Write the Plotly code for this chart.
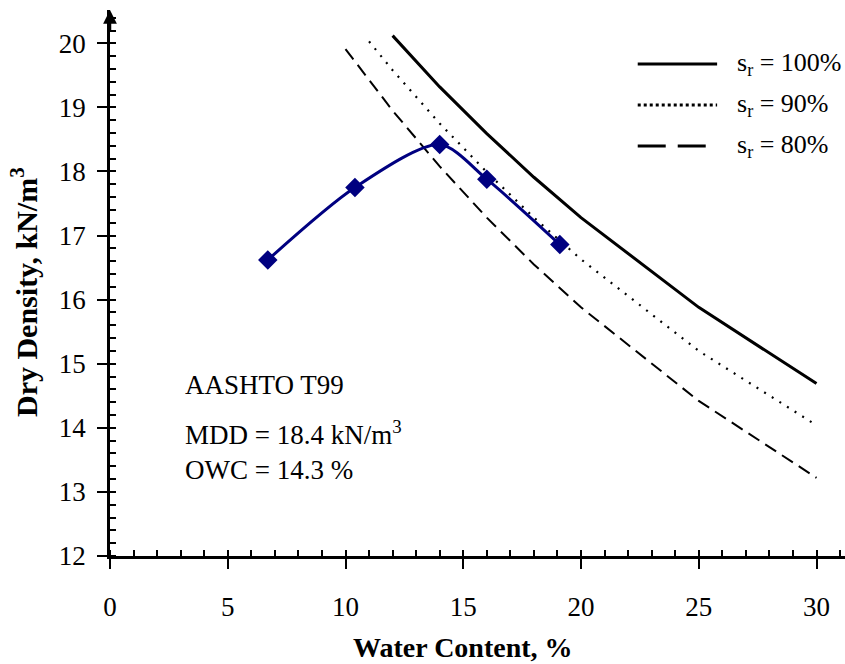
import plotly.graph_objects as go

# Compaction test results (AASHTO T99)
water_content = [6.7, 10.4, 14.0, 16.0, 19.1]
dry_density = [16.62, 17.75, 18.42, 17.88, 16.86]

# Saturation lines (degree of saturation s_r)
w_sr100 = [12, 14, 16, 18, 20, 25, 30]
dd_sr100 = [20.12, 19.32, 18.59, 17.91, 17.28, 15.88, 14.69]

w_sr90 = [11, 12, 14, 16, 18, 20, 25, 30]
dd_sr90 = [20.03, 19.58, 18.75, 17.99, 17.28, 16.63, 15.20, 14.04]

w_sr80 = [10, 12, 14, 16, 18, 20, 25, 30]
dd_sr80 = [19.91, 18.95, 18.08, 17.28, 16.55, 15.88, 14.42, 13.22]

legend_labels = ["s<sub>r</sub> = 100%", "s<sub>r</sub> = 90%", "s<sub>r</sub> = 80%"]
legend_dash = ["solid", "3px,3px", "28px,12px"]
legend_width = [3, 3, 3]

x_ticks = [0, 5, 10, 15, 20, 25, 30]
y_ticks = [12, 13, 14, 15, 16, 17, 18, 19, 20]

FONT = "Liberation Serif"
NAVY = "#000080"

fig = go.Figure()

fig.add_trace(go.Scatter(x=w_sr100, y=dd_sr100, mode="lines",
                         line=dict(color="black", width=3), showlegend=False))
fig.add_trace(go.Scatter(x=w_sr90, y=dd_sr90, mode="lines",
                         line=dict(color="black", width=2.2, dash="2px,7px"), showlegend=False))
fig.add_trace(go.Scatter(x=w_sr80, y=dd_sr80, mode="lines",
                         line=dict(color="black", width=2, dash="13px,7px"), showlegend=False))
fig.add_trace(go.Scatter(x=water_content, y=dry_density, mode="lines+markers",
                         line=dict(color=NAVY, width=3, shape="spline", smoothing=0.8),
                         marker=dict(symbol="diamond", size=15, color=NAVY),
                         showlegend=False))

# Hand-built legend in the upper right
legend_y = [0.901, 0.826, 0.751]
for label, dash, lw, ly in zip(legend_labels, legend_dash, legend_width, legend_y):
    fig.add_shape(type="line", xref="paper", yref="paper",
                  x0=0.718, x1=0.826, y0=ly, y1=ly,
                  line=dict(color="black", width=lw, dash=dash))
    fig.add_annotation(xref="paper", yref="paper", x=0.851, y=ly, text=label,
                       showarrow=False, xanchor="left", yanchor="middle",
                       font=dict(family=FONT, size=26, color="black"))

# Test summary text
notes = ["AASHTO T99", "MDD = 18.4 kN/m<sup>3</sup>", "OWC = 14.3 %"]
notes_y = [14.67, 13.92, 13.34]
for txt, ny in zip(notes, notes_y):
    fig.add_annotation(x=3.1, y=ny, text=txt, showarrow=False,
                       xanchor="left", yanchor="middle",
                       font=dict(family=FONT, size=27, color="black"))

# Axis titles
fig.add_annotation(x=15, y=-0.168, xref="x", yref="paper",
                   text="<b>Water Content, %</b>", showarrow=False,
                   xanchor="center", yanchor="middle",
                   font=dict(family=FONT, size=28, color="black"))
fig.add_annotation(x=-0.116, y=0.483, xref="paper", yref="paper",
                   text="<b>Dry Density, kN/m<sup>3</sup></b>", showarrow=False,
                   textangle=-90, xanchor="center", yanchor="middle",
                   font=dict(family=FONT, size=30, color="black"))

# Arrow head on top of the y axis
fig.add_annotation(x=0, y=1, xref="x", yref="y domain", ax=0, ay=22,
                   text="", showarrow=True, arrowhead=2, arrowsize=1.1,
                   arrowwidth=2.5, arrowcolor="black")

fig.update_xaxes(range=[0, 31.21], tickvals=x_ticks, ticktext=[str(v) for v in x_ticks],
                 showgrid=False, zeroline=False, showline=True, linecolor="black",
                 linewidth=2.5, ticks="outside", ticklen=10, tickwidth=1.5, tickcolor="black",
                 ticklabelstandoff=15,
                 minor=dict(dtick=1, tick0=0, ticks="inside", ticklen=6, tickwidth=1.5,
                            tickcolor="black", showgrid=False),
                 tickfont=dict(family=FONT, size=27, color="black"))
fig.update_yaxes(range=[12, 20.52], tickvals=y_ticks, ticktext=[str(v) for v in y_ticks],
                 showgrid=False, zeroline=False, showline=True, linecolor="black",
                 linewidth=2.5, ticks="outside", ticklen=10, tickwidth=1.5, tickcolor="black",
                 ticklabelstandoff=6,
                 minor=dict(dtick=0.2, tick0=12, ticks="inside", ticklen=6, tickwidth=1.5,
                            tickcolor="black", showgrid=False),
                 tickfont=dict(family=FONT, size=27, color="black"))

fig.update_layout(width=845, height=664, margin=dict(l=110, r=0, t=10, b=108),
                  plot_bgcolor="white", paper_bgcolor="white",
                  font=dict(family=FONT, size=27, color="black"))

fig.write_html("out.html")
